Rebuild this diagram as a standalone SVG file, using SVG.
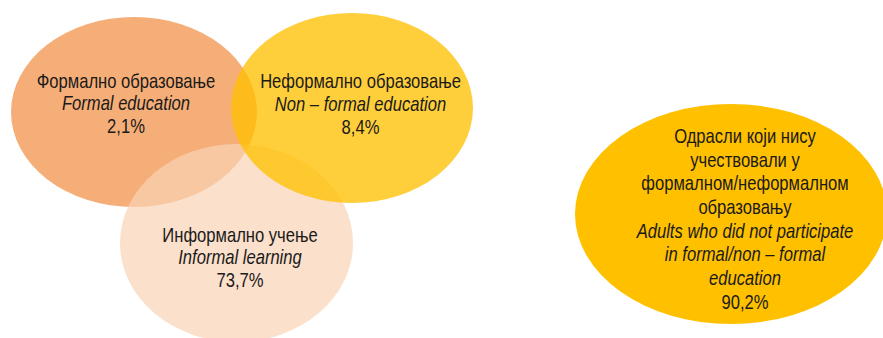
<svg xmlns="http://www.w3.org/2000/svg" width="883" height="338" viewBox="0 0 883 338">
  <style>
    text { font-family: "Liberation Sans", Arial, sans-serif; font-size: 20px; fill: #1a1a1a; text-anchor: middle; }
    .it { font-style: italic; }
  </style>
  <rect x="0" y="0" width="883" height="338" fill="#ffffff"/>
  <g id="formal">
    <ellipse cx="134" cy="112" rx="123" ry="95" fill="#F5AE77"/>
  </g>
  <g id="informal">
    <ellipse cx="236.5" cy="243" rx="116.5" ry="99" fill="#F9D3B5" fill-opacity="0.7"/>
  </g>
  <g id="nonformal">
    <ellipse cx="352" cy="108" rx="121" ry="95" fill="#FFC000" fill-opacity="0.77"/>
  </g>
  <g id="nonparticipants">
    <ellipse cx="731" cy="214" rx="156" ry="110" fill="#FFC000"/>
  </g>
  <g id="connectors"></g>
  <g id="labels">
    <g transform="translate(126 0) scale(0.83 1)">
      <text x="0" y="88">Формално образовање</text>
      <text x="0" y="110.5" class="it">Formal education</text>
      <text x="0" y="133">2,1%</text>
    </g>
    <g transform="translate(360.5 0) scale(0.83 1)">
      <text x="0" y="88">Неформално образовање</text>
      <text x="0" y="111" class="it">Non – formal education</text>
      <text x="0" y="134">8,4%</text>
    </g>
    <g transform="translate(240 0) scale(0.83 1)">
      <text x="0" y="242">Информално учење</text>
      <text x="0" y="264.5" class="it">Informal learning</text>
      <text x="0" y="287">73,7%</text>
    </g>
    <g transform="translate(745 0) scale(0.83 1)">
      <text x="0" y="143">Одрасли који нису</text>
      <text x="0" y="167">учествовали у</text>
      <text x="0" y="190.5">формалном/неформалном</text>
      <text x="0" y="214">образовању</text>
      <text x="0" y="238" class="it">Adults who did not participate</text>
      <text x="0" y="261.5" class="it">in formal/non – formal</text>
      <text x="0" y="285" class="it">education</text>
      <text x="0" y="309">90,2%</text>
    </g>
  </g>
</svg>
